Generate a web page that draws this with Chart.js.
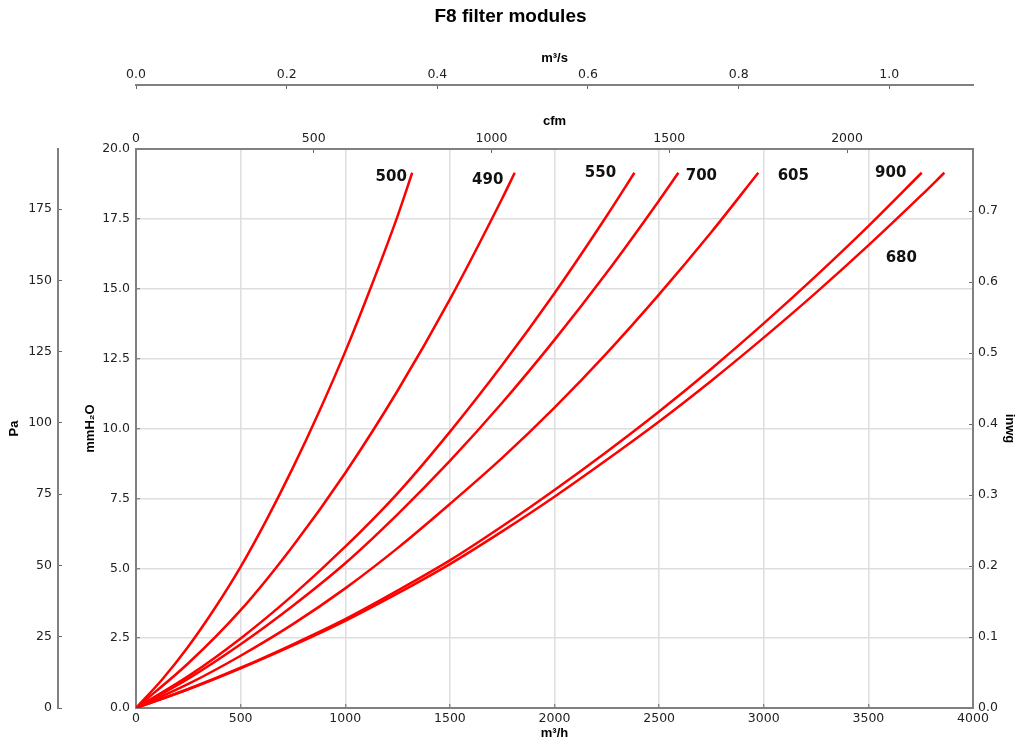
<!DOCTYPE html>
<html>
<head>
<meta charset="utf-8">
<script src="https://cdn.jsdelivr.net/npm/chart.js@4.4.1/dist/chart.umd.min.js"></script>
<style>
  html, body { margin: 0; padding: 0; background: #ffffff; }
  #wrap { width: 1021px; height: 746px; }
</style>
</head>
<body>
<div id="wrap"><canvas id="c" width="1021" height="746"></canvas></div>
<script>
// ---------------- data ----------------
const chartTitle = 'F8 filter modules';
const seriesNames = ['500', '490', '550', '700', '605', '900', '680'];

// airflow (m³/h) and pressure drop (mmH2O)
const flow500 = [0, 125, 250, 375, 500, 625, 750, 875, 1000, 1125, 1250, 1320];
const dp500   = [0, 1.02, 2.2, 3.55, 5.05, 6.75, 8.6, 10.6, 12.75, 15.1, 17.6, 19.15];

const flow490 = [0, 250, 500, 750, 1000, 1250, 1500, 1750, 1810];
const dp490   = [0, 1.6, 3.5, 5.8, 8.41, 11.35, 14.62, 18.23, 19.15];

const flow550 = [0, 250, 500, 750, 1000, 1250, 1500, 1750, 2000, 2250, 2382];
const dp550   = [0, 1.14, 2.49, 4.04, 5.77, 7.68, 9.88, 12.27, 14.84, 17.61, 19.15];

const flow700 = [0, 250, 500, 750, 1000, 1250, 1500, 1750, 2000, 2250, 2500, 2592];
const dp700   = [0, 1.05, 2.28, 3.66, 5.18, 6.93, 8.84, 10.92, 13.17, 15.58, 18.16, 19.15];

const flow605 = [0, 250, 500, 750, 1000, 1250, 1500, 1750, 2000, 2250, 2500, 2750, 2974];
const dp605   = [0, 0.86, 1.87, 3.0, 4.28, 5.72, 7.3, 8.95, 10.75, 12.7, 14.8, 17.03, 19.15];

const flow900 = [0, 250, 500, 750, 1000, 1250, 1500, 1750, 2000, 2250, 2500, 2750, 3000, 3250, 3500, 3755];
const dp900   = [0, 0.68, 1.44, 2.28, 3.18, 4.2, 5.28, 6.5, 7.8, 9.17, 10.61, 12.14, 13.76, 15.46, 17.24, 19.15];

const flow680 = [0, 250, 500, 750, 1000, 1250, 1500, 1750, 2000, 2250, 2500, 2750, 3000, 3250, 3500, 3750, 3863];
const dp680   = [0, 0.67, 1.42, 2.24, 3.12, 4.1, 5.15, 6.32, 7.56, 8.88, 10.25, 11.71, 13.25, 14.86, 16.55, 18.32, 19.15];

const flowSeries = [flow500, flow490, flow550, flow700, flow605, flow900, flow680];
const dpSeries = [dp500, dp490, dp550, dp700, dp605, dp900, dp680];

// tick values of each axis
const m3hTicks = [0, 500, 1000, 1500, 2000, 2500, 3000, 3500, 4000];
const cfmTicks = [0, 500, 1000, 1500, 2000];
const m3sTicks = [0, 0.2, 0.4, 0.6, 0.8, 1.0];
const mmTicks = [0, 2.5, 5, 7.5, 10, 12.5, 15, 17.5, 20];
const paTicks = [0, 25, 50, 75, 100, 125, 150, 175];
const inwgTicks = [0, 0.1, 0.2, 0.3, 0.4, 0.5, 0.6, 0.7];

// axis ranges / unit conversions
const M3H_MAX = 4000, MM_MAX = 20;
const CFM_PER_M3H = 0.588578, M3H_PER_M3S = 3600, PA_PER_MM = 9.80665, MM_PER_INWG = 25.4;

// ---------------- style ----------------
const LINE_COLOR = '#ff0000';
const GRID_COLOR = '#dedede';
const BORDER_COLOR = '#808080';
const TEXT_COLOR = '#222222';
const tickFont = { family: 'DejaVu Sans', size: 12.5 };
const titleFont = { family: 'Liberation Sans', size: 13, weight: 'bold', lineHeight: 1.2 };
// label offsets (px) relative to the end of each curve
const labelOffsets = [[-21, 4], [-27, 7], [-34, 0], [23, 3], [35, 3], [-31, 0], [-43, 85]];

function setTicks(values) {
  return function (scale) { scale.ticks = values.map(v => ({ value: v })); };
}
function fixSize(prop, size) {
  return function (scale) { scale[prop] = size; };
}
function baseScale(extra) {
  return Object.assign({
    type: 'linear',
    border: { display: true, color: BORDER_COLOR, width: 2 },
    grid: { display: true, drawOnChartArea: false, drawTicks: true, tickLength: -4, tickColor: '#666', tickWidth: 1 },
    ticks: { font: tickFont, color: TEXT_COLOR, includeBounds: false, maxRotation: 0, autoSkip: false }
  }, extra);
}

const datasets = flowSeries.map((flows, i) => ({
  label: seriesNames[i],
  data: flows.map((q, k) => ({ x: q, y: dpSeries[i][k] })),
  borderColor: LINE_COLOR,
  backgroundColor: LINE_COLOR,
  borderWidth: 2.5,
  pointRadius: 0,
  cubicInterpolationMode: 'monotone',
  fill: false,
  xAxisID: 'x',
  yAxisID: 'y'
}));

const curveLabels = {
  id: 'curveLabels',
  afterDatasetsDraw(chart) {
    const ctx = chart.ctx;
    ctx.save();
    ctx.font = 'bold 15px "DejaVu Sans"';
    ctx.fillStyle = '#111111';
    ctx.textAlign = 'center';
    ctx.textBaseline = 'middle';
    chart.data.datasets.forEach((ds, i) => {
      const meta = chart.getDatasetMeta(i);
      const last = meta.data[meta.data.length - 1];
      ctx.fillText(ds.label, last.x + labelOffsets[i][0], last.y + labelOffsets[i][1]);
    });
    ctx.restore();
  }
};

new Chart(document.getElementById('c'), {
  type: 'line',
  data: { datasets },
  plugins: [curveLabels],
  options: {
    responsive: false,
    animation: false,
    layout: { padding: 0 },
    plugins: {
      legend: { display: false },
      tooltip: { enabled: false },
      title: {
        display: true, text: chartTitle, color: '#000',
        font: { family: 'Liberation Sans', size: 19, weight: 'bold', lineHeight: 1.2 },
        padding: { top: 5, bottom: 0 }
      }
    },
    scales: {
      x: baseScale({
        position: 'bottom', min: 0, max: M3H_MAX, weight: 1,
        grid: { display: true, drawOnChartArea: true, color: GRID_COLOR, lineWidth: 1.5, drawTicks: true, tickLength: -4, tickColor: '#666', tickWidth: 1 },
        ticks: { font: tickFont, color: TEXT_COLOR, includeBounds: false, maxRotation: 0, autoSkip: false, padding: 7, callback: v => String(v) },
        title: { display: true, text: 'm³/h', color: '#000', font: titleFont, padding: { top: 0, bottom: 4.8 } },
        afterBuildTicks: setTicks(m3hTicks),
        afterFit: fixSize('height', 38)
      }),
      xCfm: baseScale({
        position: 'top', min: 0, max: M3H_MAX * CFM_PER_M3H, weight: 1,
        ticks: { font: tickFont, color: TEXT_COLOR, includeBounds: false, maxRotation: 0, autoSkip: false, padding: 7, callback: v => String(v) },
        title: { display: true, text: 'cfm', color: '#000', font: titleFont, padding: { top: 28.8, bottom: 0 } },
        afterBuildTicks: setTicks(cfmTicks),
        afterFit: fixSize('height', 64)
      }),
      xM3s: baseScale({
        position: 'top', min: 0, max: M3H_MAX / M3H_PER_M3S, weight: 2,
        ticks: { font: tickFont, color: TEXT_COLOR, includeBounds: false, maxRotation: 0, autoSkip: false, padding: 7, callback: v => v.toFixed(1) },
        title: { display: true, text: 'm³/s', color: '#000', font: titleFont, padding: { top: 22.5, bottom: 0 } },
        afterBuildTicks: setTicks(m3sTicks),
        afterFit: fixSize('height', 57.2)
      }),
      y: baseScale({
        position: 'left', min: 0, max: MM_MAX, weight: 1,
        grid: { display: true, drawOnChartArea: true, color: GRID_COLOR, lineWidth: 1.5, drawTicks: true, tickLength: -4, tickColor: '#666', tickWidth: 1 },
        ticks: { font: tickFont, color: TEXT_COLOR, includeBounds: false, autoSkip: false, padding: 10, callback: v => v.toFixed(1) },
        title: { display: true, text: 'mmH₂O', color: '#000', font: titleFont, padding: { top: 24.8, bottom: 0 } },
        afterBuildTicks: setTicks(mmTicks),
        afterFit: fixSize('width', 78)
      }),
      yPa: baseScale({
        position: 'left', min: 0, max: MM_MAX * PA_PER_MM, weight: 2,
        ticks: { font: tickFont, color: TEXT_COLOR, includeBounds: false, autoSkip: false, padding: 10, callback: v => String(v) },
        title: { display: true, text: 'Pa', color: '#000', font: titleFont, padding: { top: 6.8, bottom: 0 } },
        afterBuildTicks: setTicks(paTicks),
        afterFit: fixSize('width', 58)
      }),
      yIn: baseScale({
        position: 'right', min: 0, max: MM_MAX / MM_PER_INWG, weight: 1,
        ticks: { font: tickFont, color: TEXT_COLOR, includeBounds: false, autoSkip: false, padding: 9, callback: v => v.toFixed(1) },
        title: { display: true, text: 'inwg', color: '#000', font: titleFont, padding: { top: 3.8, bottom: 0 } },
        afterBuildTicks: setTicks(inwgTicks),
        afterFit: fixSize('width', 48)
      })
    }
  }
});
</script>
</body>
</html>
